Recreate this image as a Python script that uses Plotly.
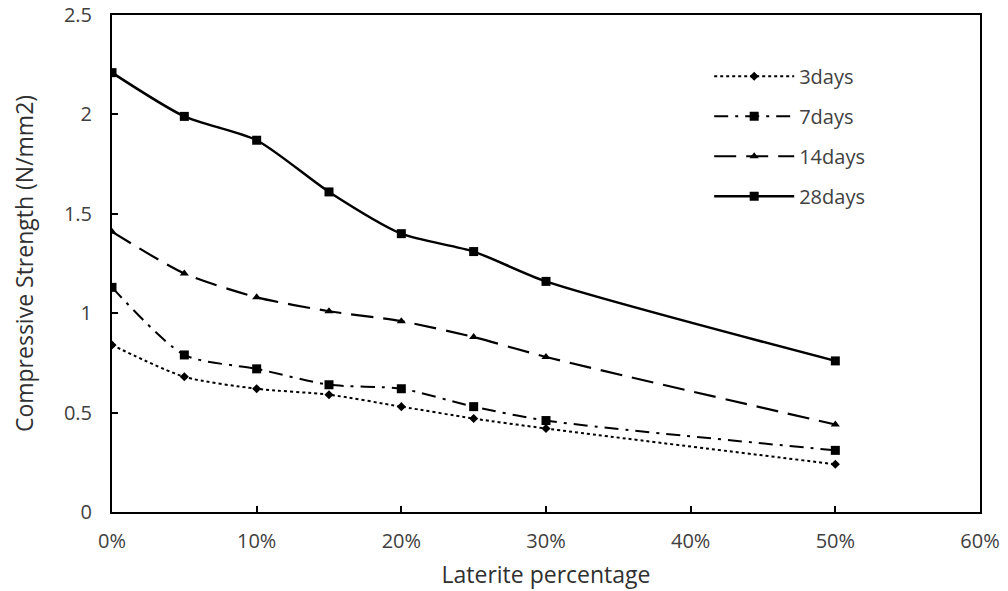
import plotly.graph_objects as go

laterite = [0.0, 0.05, 0.10, 0.15, 0.20, 0.25, 0.30, 0.50]
days3 = [0.84, 0.68, 0.62, 0.59, 0.53, 0.47, 0.42, 0.24]
days7 = [1.13, 0.79, 0.72, 0.64, 0.62, 0.53, 0.46, 0.31]
days14 = [1.41, 1.20, 1.08, 1.01, 0.96, 0.88, 0.78, 0.44]
days28 = [2.21, 1.99, 1.87, 1.61, 1.40, 1.31, 1.16, 0.76]

series = [
    ("3days", days3, "dot", "diamond", 7, 2),
    ("7days", days7, "14px,7px,3px,7px", "square", 9, 2),
    ("14days", days14, "22px,10px", "triangle-up", 8, 2.2),
    ("28days", days28, "solid", "square", 9, 2.5),
]

fig = go.Figure()
for i, (name, vals, dash, sym, ms, lw) in enumerate(series):
    fig.add_trace(go.Scatter(
        x=laterite, y=vals, name=name, mode="lines+markers",
        line=dict(color="black", width=lw, dash=dash, shape="spline", smoothing=0.7),
        marker=dict(symbol=sym, size=ms, color="black"),
        legendgroup=f"g{i}",
    ))

font = "Open Sans, Liberation Sans, sans-serif"
fig.update_layout(
    width=1008, height=591,
    margin=dict(l=112, r=28, t=15, b=79, autoexpand=False),
    paper_bgcolor="white", plot_bgcolor="white",
    font=dict(family=font, size=20, color="#404040"),
    showlegend=True,
    legend=dict(x=0.688, y=0.916, xanchor="left", yanchor="top",
                traceorder="grouped", tracegroupgap=11, itemwidth=80,
                font=dict(size=20, color="#404040"), bgcolor="rgba(0,0,0,0)"),
    xaxis=dict(range=[0, 0.6], dtick=0.1, tick0=0, tickformat=".0%",
               showgrid=False, zeroline=False, showline=True, mirror=True,
               linecolor="black", linewidth=2, ticks="inside", ticklen=6,
               tickcolor="black", tickwidth=1.5, ticklabelstandoff=10,
               automargin=False,
               title=dict(text="Laterite percentage", font=dict(size=23, color="#303030"), standoff=14)),
    yaxis=dict(range=[0, 2.5], dtick=0.5, tick0=0,
               showgrid=False, zeroline=False, showline=True, mirror=True,
               linecolor="black", linewidth=2, ticks="inside", ticklen=6,
               tickcolor="black", tickwidth=1.5, ticklabelstandoff=14,
               automargin=False,
               title=dict(text="Compressive Strength (N/mm2)", font=dict(size=23, color="#303030"), standoff=24)),
)

fig.write_html("out.html")
